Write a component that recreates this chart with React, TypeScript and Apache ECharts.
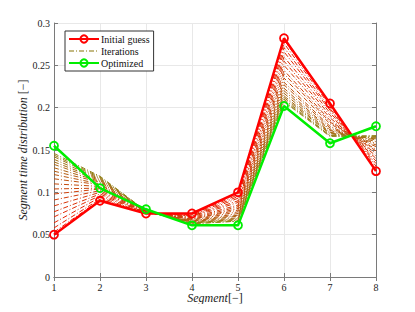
import React, { useEffect, useRef } from "react";
import * as echarts from "echarts";

const segments = [1, 2, 3, 4, 5, 6, 7, 8];
const initialGuess = [0.05, 0.09, 0.075, 0.075, 0.1, 0.282, 0.205, 0.125];
const optimized = [0.155, 0.105, 0.08, 0.061, 0.061, 0.202, 0.158, 0.178];
const iterations: number[][] = [
  [0.053, 0.091, 0.075, 0.075, 0.099, 0.280, 0.204, 0.126],
  [0.058, 0.092, 0.075, 0.074, 0.097, 0.276, 0.202, 0.128],
  [0.064, 0.094, 0.075, 0.073, 0.095, 0.271, 0.199, 0.131],
  [0.071, 0.096, 0.076, 0.072, 0.093, 0.266, 0.197, 0.134],
  [0.077, 0.098, 0.076, 0.072, 0.090, 0.260, 0.194, 0.137],
  [0.084, 0.100, 0.076, 0.071, 0.088, 0.255, 0.191, 0.140],
  [0.091, 0.102, 0.076, 0.070, 0.085, 0.250, 0.188, 0.143],
  [0.098, 0.104, 0.076, 0.069, 0.083, 0.244, 0.185, 0.146],
  [0.104, 0.105, 0.077, 0.068, 0.081, 0.240, 0.183, 0.149],
  [0.110, 0.107, 0.077, 0.068, 0.079, 0.235, 0.181, 0.151],
  [0.116, 0.109, 0.077, 0.067, 0.077, 0.230, 0.178, 0.154],
  [0.121, 0.110, 0.077, 0.066, 0.075, 0.227, 0.176, 0.156],
  [0.125, 0.112, 0.077, 0.066, 0.073, 0.223, 0.174, 0.158],
  [0.129, 0.113, 0.077, 0.065, 0.072, 0.220, 0.173, 0.160],
  [0.133, 0.114, 0.078, 0.065, 0.070, 0.217, 0.171, 0.162],
  [0.136, 0.115, 0.078, 0.064, 0.069, 0.214, 0.170, 0.163],
  [0.139, 0.116, 0.078, 0.064, 0.068, 0.212, 0.169, 0.164],
  [0.142, 0.117, 0.078, 0.064, 0.067, 0.210, 0.167, 0.165],
  [0.144, 0.118, 0.078, 0.063, 0.066, 0.208, 0.167, 0.166],
  [0.146, 0.119, 0.078, 0.063, 0.066, 0.207, 0.166, 0.167],
];
const yTicks = ["0", "0.05", "0.1", "0.15", "0.2", "0.25", "0.3"];

const FONT = "'Liberation Serif', 'DejaVu Serif', serif";

export default function App() {
  const ref = useRef<HTMLDivElement>(null);
  useEffect(() => {
    if (!ref.current) return;
    const chart = echarts.init(ref.current, undefined, { renderer: "svg" });
    const n = iterations.length;
    const iterSeries = iterations.map((vals, k) => {
      const t = n > 1 ? k / (n - 1) : 0;
      const r = Math.round(240 - 95 * t);
      const g = Math.round(25 + 105 * t);
      const b = Math.round(0 + 25 * t);
      return {
        name: "Iterations",
        type: "line",
        data: segments.map((s, i) => [s, vals[i]]),
        symbol: "none",
        lineStyle: { color: `rgb(${r},${g},${b})`, width: 1, type: [5, 2, 1, 2] },
        itemStyle: { color: `rgb(${r},${g},${b})` },
        z: 2,
      };
    });
    const legendIter = {
      name: "Iterations",
      type: "line",
      data: [],
      symbol: "none",
      lineStyle: { color: "#b0a35a", width: 1.5, type: [5, 2, 1, 2] },
      itemStyle: { color: "#b0a35a" },
    };
    const axisGray = "#7a7a7a";
    chart.setOption({
      animation: false,
      textStyle: { fontFamily: FONT },
      grid: { left: 54, right: 39, top: 23, bottom: 35, show: false, outerBoundsMode: "none", containLabel: false },
      legend: {
        left: 65,
        top: 31,
        orient: "vertical",
        itemWidth: 30,
        itemHeight: 9,
        itemGap: 2,
        padding: [3, 4, 3, 3],
        backgroundColor: "#fff",
        borderColor: "#333",
        borderWidth: 1,
        textStyle: { fontFamily: FONT, fontSize: 10, color: "#111", padding: [0, 0, 0, -3] },
        data: [
          { name: "Initial guess" },
          {
            name: "Iterations",
            itemStyle: { color: "rgba(0,0,0,0)", borderColor: "rgba(0,0,0,0)", borderWidth: 0 },
            lineStyle: { color: "#b0a35a", width: 1.5, type: [5, 2, 1, 2] },
          },
          { name: "Optimized" },
        ],
      },
      xAxis: [
        {
          type: "value",
          min: 1,
          max: 8,
          interval: 1,
          axisLine: { lineStyle: { color: axisGray } },
          axisTick: { inside: true, length: 4, lineStyle: { color: axisGray } },
          axisLabel: { fontFamily: FONT, fontSize: 10, color: "#222", margin: 5 },
          splitLine: { show: true, lineStyle: { color: "#e8e8e8" } },
          name: "{i|Segment}{n|[−]}",
          nameLocation: "middle",
          nameGap: 15,
          nameMoveOverlap: false,
          nameTextStyle: {
            rich: {
              i: { fontFamily: FONT, fontStyle: "italic", fontSize: 12, color: "#222" },
              n: { fontFamily: FONT, fontSize: 12, color: "#222" },
            },
          },
        },
        {
          type: "value",
          position: "top",
          min: 1,
          max: 8,
          interval: 1,
          axisLine: { show: true, lineStyle: { color: axisGray } },
          axisTick: { show: true, inside: true, length: 4, lineStyle: { color: axisGray } },
          axisLabel: { show: false },
          splitLine: { show: false },
        },
      ],
      yAxis: [
        {
          type: "value",
          min: 0,
          max: 0.3,
          interval: 0.05,
          axisLine: { show: true, lineStyle: { color: axisGray } },
          axisTick: { show: true, inside: true, length: 4, lineStyle: { color: axisGray } },
          axisLabel: {
            fontFamily: FONT,
            fontSize: 10,
            color: "#222",
            margin: 4,
            formatter: (v: number) => yTicks[Math.round(v / 0.05)] ?? String(v),
          },
          splitLine: { show: true, lineStyle: { color: "#e8e8e8" } },
          name: "{i|Segment time distribution} {n|[−]}",
          nameLocation: "middle",
          nameGap: 25,
          nameRotate: 90,
          nameMoveOverlap: false,
          nameTextStyle: {
            rich: {
              i: { fontFamily: FONT, fontStyle: "italic", fontSize: 12, color: "#222" },
              n: { fontFamily: FONT, fontSize: 12, color: "#222" },
            },
          },
        },
        {
          type: "value",
          position: "right",
          min: 0,
          max: 0.3,
          interval: 0.05,
          axisLine: { show: true, lineStyle: { color: axisGray } },
          axisTick: { show: true, inside: true, length: 4, lineStyle: { color: axisGray } },
          axisLabel: { show: false },
          splitLine: { show: false },
        },
      ],
      series: [
        {
          name: "Initial guess",
          type: "line",
          data: segments.map((s, i) => [s, initialGuess[i]]),
          symbol: "circle",
          symbolSize: 8,
          lineStyle: { color: "#ff0000", width: 2.5 },
          itemStyle: { color: "rgba(255,255,255,0)", borderColor: "#ff0000", borderWidth: 1.8 },
          z: 3,
        },
        legendIter,
        ...iterSeries,
        {
          name: "Optimized",
          type: "line",
          data: segments.map((s, i) => [s, optimized[i]]),
          symbol: "circle",
          symbolSize: 8,
          lineStyle: { color: "#00ee00", width: 2.5 },
          itemStyle: { color: "rgba(255,255,255,0)", borderColor: "#00ee00", borderWidth: 1.8 },
          z: 4,
        },
      ],
    });
    return () => chart.dispose();
  }, []);
  return <div ref={ref} style={{ width: 415, height: 312, margin: -8 }} />;
}
